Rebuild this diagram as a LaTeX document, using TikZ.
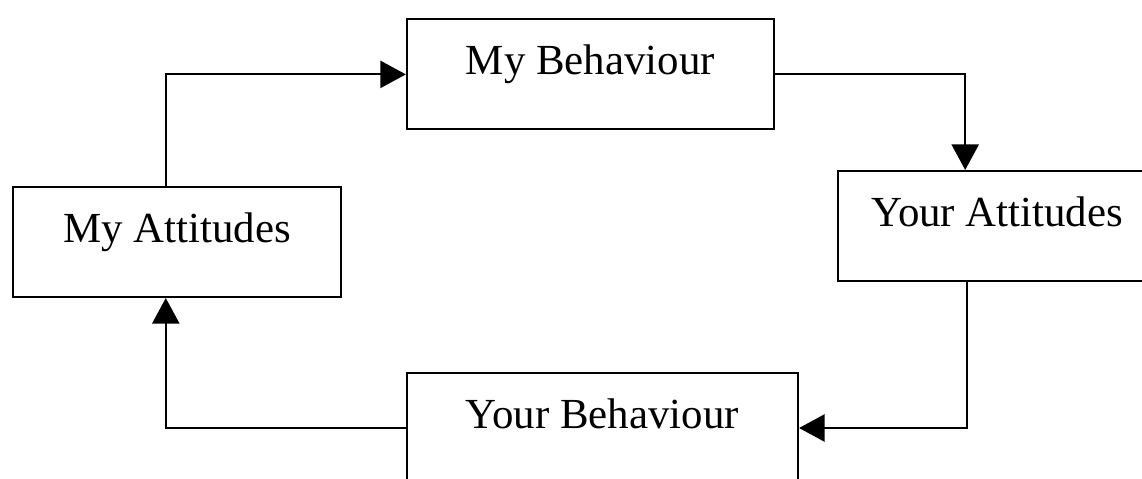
\documentclass[tikz,border=0pt]{standalone}
\usepackage{fontspec}
\setmainfont{Liberation Serif}
\usetikzlibrary{arrows.meta}
\tikzset{>={Triangle[length=0.64cm,width=0.68cm]}}

\begin{document}
\begin{tikzpicture}
    \tikzstyle{box}=[draw,line width=1.5pt,inner sep=0pt,text height=1.375cm,text depth=1.375cm,font=\fontsize{30.5}{36}\selectfont];
    \tikzstyle{link}=[line width=1.4pt,->];
    \clip (0,0) rectangle (28.55,-11.95);
    \node[box,minimum width=8.2cm] (myatt) at (4.425,-6.05) {My Attitudes};
    \node[box,minimum width=9.175cm] (mybeh) at (14.76,-1.86) {My Behaviour};
    \node[box,minimum width=7.95cm] (yatt) at (24.93,-5.65) {Your Attitudes};
    \node[box,minimum width=9.78cm] (ybeh) at (15.06,-10.7) {Your Behaviour};
    \draw[link]([xshift=-0.28cm]myatt.north) |- (mybeh.west);
    \draw[link](mybeh.east) -| ([xshift=-0.8cm]yatt.north);
    \draw[link]([xshift=-0.75cm]yatt.south) |- (ybeh.east);
    \draw[link](ybeh.west) -| ([xshift=-0.28cm]myatt.south);
\end{tikzpicture}
\end{document}
